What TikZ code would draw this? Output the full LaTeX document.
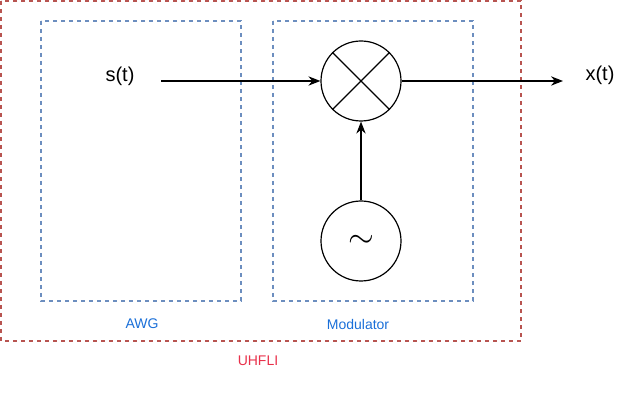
\documentclass[tikz,border=0pt]{standalone}
\usepackage{fontspec}
\setmainfont{Liberation Sans}
\usetikzlibrary{arrows.meta, positioning}
\definecolor{redline}{HTML}{B85450}
\definecolor{blueline}{HTML}{6C8EBF}
\definecolor{bluetext}{HTML}{1A6FD8}
\definecolor{redtext}{HTML}{E8304A}

\begin{document}
\begin{tikzpicture}[x=0.75pt, y=-0.75pt,
    box/.style = {draw, dashed, line width=0.8pt},
    mixer/.style = {draw, circle, minimum size=60pt, inner sep=0pt, line width=0.9pt},
    sig/.style = {font=\fontsize{15}{18}\selectfont},
    lbl/.style = {font=\fontsize{10.5}{12}\selectfont}]
    \useasboundingbox (0,0) rectangle (642,402);

    \draw [box, redline] (1,1) rectangle (521,341);
    \draw [box, blueline] (41,21) rectangle (241,301);
    \draw [box, blueline] (273,21) rectangle (473,301);

    \node (mix) [mixer] at (361,81) {};
    \draw [line width=0.9pt] (mix.north west) -- (mix.south east)
        (mix.north east) -- (mix.south west);
    \node (osc) [mixer] at (361,241) {\fontsize{36}{36}\selectfont\bfseries$\sim$};

    \node (s) [sig] at (120,76) {s(t)};
    \node (x) [sig] at (600,75) {x(t)};
    \coordinate (sin) at (161,81);
    \coordinate (xout) at (563,81);

    \node [lbl, text=bluetext] at (142,324) {AWG};
    \node [lbl, text=bluetext] at (358,324) {Modulator};
    \node [lbl, text=redtext] at (258,361) {UHFLI};

\path [-{Stealth[length=9pt, width=7pt]}, line width=0.9pt]
    (sin) edge (mix.west)
    (mix.east) edge (xout)
    (osc.north) edge (mix.south);

\end{tikzpicture}
\end{document}
